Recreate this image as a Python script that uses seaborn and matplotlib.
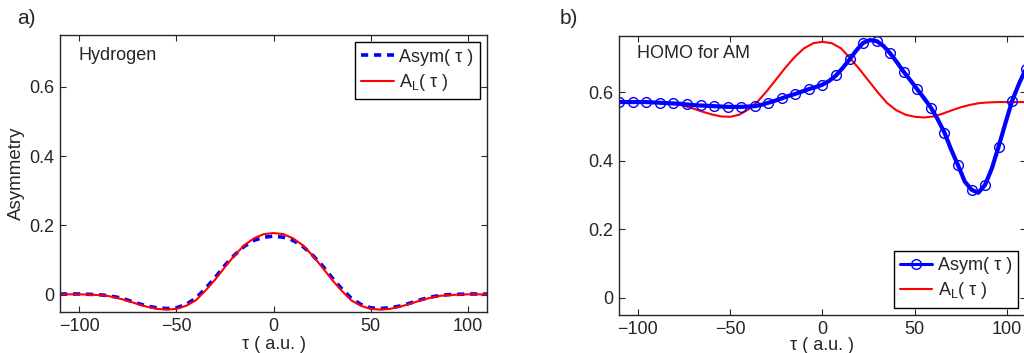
import numpy as np
import pandas as pd
import seaborn as sns
import matplotlib
matplotlib.use("Agg")
import matplotlib.pyplot as plt
from matplotlib.lines import Line2D

# ---- data -------------------------------------------------------------
# Hydrogen: delay grid (a.u.) and the two asymmetry curves
tau_h = [-110, -105, -100, -95, -90, -85, -80, -75, -70, -65, -60, -55, -50,
         -45, -40, -35, -30, -25, -20, -15, -10, -5, 0, 5, 10, 15, 20, 25,
         30, 35, 40, 45, 50, 55, 60, 65, 70, 75, 80, 85, 90, 95, 100, 105, 110]
asym_h = [0.002, 0.002, 0.002, 0.001, 0.000, -0.003, -0.008, -0.016, -0.025,
          -0.033, -0.038, -0.040, -0.038, -0.028, -0.010, 0.018, 0.050, 0.085,
          0.115, 0.140, 0.157, 0.166, 0.169, 0.166, 0.157, 0.140, 0.115, 0.085,
          0.050, 0.018, -0.010, -0.028, -0.038, -0.040, -0.038, -0.033, -0.025,
          -0.016, -0.008, -0.003, 0.000, 0.001, 0.002, 0.002, 0.002]
al_h = [0.001, 0.001, 0.001, 0.000, -0.001, -0.004, -0.010, -0.018, -0.027,
        -0.035, -0.041, -0.043, -0.041, -0.032, -0.016, 0.012, 0.044, 0.080,
        0.114, 0.143, 0.163, 0.175, 0.178, 0.175, 0.163, 0.143, 0.114, 0.080,
        0.044, 0.012, -0.016, -0.032, -0.041, -0.043, -0.041, -0.035, -0.027,
        -0.018, -0.010, -0.004, -0.001, 0.000, 0.001, 0.001, 0.001]

# HOMO for AM: Asym sampled on a fine grid (markers on every second point)
tau_m = np.linspace(-110, 110, 61)
asym_m = [0.572, 0.572, 0.572, 0.572, 0.572, 0.571, 0.570, 0.569, 0.568, 0.567,
          0.565, 0.563, 0.562, 0.561, 0.560, 0.559, 0.558, 0.558, 0.558, 0.559,
          0.560, 0.564, 0.570, 0.576, 0.583, 0.590, 0.596, 0.603, 0.610, 0.616,
          0.623, 0.634, 0.650, 0.672, 0.697, 0.723, 0.745, 0.753, 0.750, 0.736,
          0.714, 0.688, 0.660, 0.635, 0.609, 0.583, 0.556, 0.522, 0.483, 0.433,
          0.388, 0.340, 0.316, 0.307, 0.330, 0.378, 0.442, 0.510, 0.576, 0.625,
          0.668]
al_m = [0.572, 0.572, 0.572, 0.572, 0.571, 0.570, 0.567, 0.561, 0.553, 0.544,
        0.536, 0.530, 0.529, 0.535, 0.551, 0.574, 0.605, 0.639, 0.673, 0.704,
        0.729, 0.744, 0.748, 0.744, 0.729, 0.700, 0.668, 0.634, 0.600, 0.569,
        0.548, 0.535, 0.529, 0.527, 0.530, 0.538, 0.548, 0.557, 0.564, 0.569,
        0.571, 0.572, 0.572, 0.572, 0.572]

# ---- style ------------------------------------------------------------
sns.set_style("ticks")
plt.rcParams["font.family"] = ["Liberation Sans", "DejaVu Sans"]
plt.rcParams["mathtext.fontset"] = "custom"
plt.rcParams["mathtext.rm"] = "Liberation Sans"
plt.rcParams["xtick.direction"] = "in"
plt.rcParams["ytick.direction"] = "in"
plt.rcParams["axes.linewidth"] = 1.0

BLUE = "#0000ff"
RED = "#ff0000"
FS = 13
DASH = (0, (2.0, 1.6))

fig = plt.figure(figsize=(10.24, 3.53), dpi=100)
ax1 = fig.add_axes([60 / 1024, 1 - 312 / 353, 427 / 1024, 277 / 353])
ax2 = fig.add_axes([619.3 / 1024, 1 - 315 / 353, 406.4 / 1024, 279 / 353])

# ---- panel a: hydrogen ------------------------------------------------
dfh = pd.DataFrame({"tau": tau_h, "asym": asym_h, "al": al_h})
sns.lineplot(data=dfh, x="tau", y="asym", ax=ax1, color=BLUE, lw=2.6,
             linestyle=DASH)
sns.lineplot(data=dfh, x="tau", y="al", ax=ax1, color=RED, lw=1.5)
ax1.set_ylim(-0.05, 0.75)
ax1.set_ylabel("Asymmetry", fontsize=13.5, labelpad=3)
ax1.text(19 / 427, 1 - 21 / 277, "Hydrogen", transform=ax1.transAxes,
         fontsize=FS, va="center", ha="left")
h1 = [Line2D([], [], color=BLUE, lw=2.6, linestyle=DASH),
      Line2D([], [], color=RED, lw=1.5)]

# ---- panel b: HOMO for AM ---------------------------------------------
dfm = pd.DataFrame({"tau": tau_m, "asym": asym_m})
dfl = pd.DataFrame({"tau": tau_h, "al": al_m})
sns.lineplot(data=dfl, x="tau", y="al", ax=ax2, color=RED, lw=1.5)
sns.lineplot(data=dfm, x="tau", y="asym", ax=ax2, color=BLUE, lw=3.0,
             marker="o", markevery=2, markersize=7, markerfacecolor="none",
             markeredgecolor=BLUE, markeredgewidth=1.0)
ax2.set_ylim(-0.05, 0.765)
ax2.set_ylabel("")
ax2.text(18 / 406.4, 1 - 17 / 279, "HOMO for AM", transform=ax2.transAxes,
         fontsize=FS, va="center", ha="left")
h2 = [Line2D([], [], color=BLUE, lw=2.2, marker="o", markersize=7,
             markerfacecolor="none", markeredgewidth=1.0),
      Line2D([], [], color=RED, lw=1.5)]

labels = ["Asym( τ )", r"A$_{\rm L}$( τ )"]
for ax, handles, loc, lp in ((ax1, h1, "upper right", 1.0),
                             (ax2, h2, "lower right", -0.5)):
    ax.set_xlim(-110, 110)
    ax.set_xticks([-100, -50, 0, 50, 100])
    ax.set_yticks([0, 0.2, 0.4, 0.6])
    ax.set_yticklabels(["0", "0.2", "0.4", "0.6"])
    ax.set_xticklabels(["\u2212100", "\u221250", "0", "50", "100"])
    ax.tick_params(labelsize=FS, top=True, right=True, length=4, width=0.8,
                   pad=4)
    for s in ax.spines.values():
        s.set_visible(True)
        s.set_linewidth(1.0)
    ax.set_xlabel("τ ( a.u. )", fontsize=FS, labelpad=lp)
    leg = ax.legend(handles, labels, loc=loc, fontsize=FS, frameon=True,
                    fancybox=False, edgecolor="black", framealpha=1,
                    handlelength=1.8, handletextpad=0.3, borderpad=0.35,
                    labelspacing=0.35, borderaxespad=0.4)
    leg.get_frame().set_linewidth(1.0)

fig.text(17 / 1024, 1 - 19 / 353, "a)", fontsize=15, va="center", ha="left")
fig.text(560 / 1024, 1 - 19 / 353, "b)", fontsize=15, va="center", ha="left")

fig.savefig("out.png", dpi=100)
